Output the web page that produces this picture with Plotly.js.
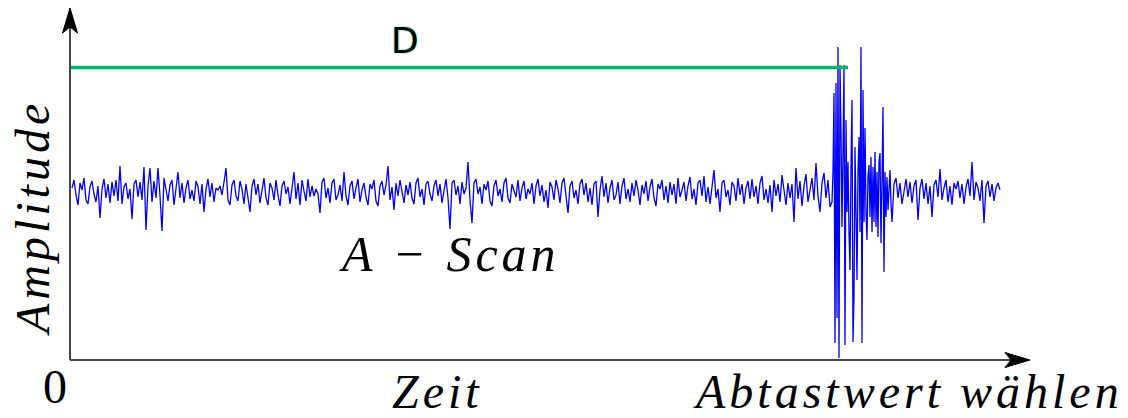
<!DOCTYPE html>
<html>
<head>
<meta charset="utf-8">
<script src="https://cdn.plot.ly/plotly-3.0.1.min.js"></script>
<style>
  html, body { margin: 0; padding: 0; background: #fff; }
  #chart { width: 1128px; height: 418px; }
  .annotation-text { letter-spacing: 4px; }
</style>
</head>
<body>
<div id="chart"></div>
<script>
// ---- data (amplitude in arbitrary units, baseline = 0) ----
// noise before the echo, one value per sample index 0..379
const noiseBefore = [
  4, 12, -3, -13, 9, 2, 14, -8, -12, 5, 11, -2, -10, 6, -26, 3, 13, -6, 8, -11,
  10, -4, 12, -9, 26, -12, 5, 9, -7, 3, -27, 8, 12, -5, 10, -8, 25, -38, 6, 24,
  -10, 11, -6, 24, -4, -39, 14, 2, -9, 7, 12, -13, 3, 20, -6, 9, -11, 4, 12, -7,
  2, -9, 11, 5, -12, 8, -20, 3, 13, -5, 9, -10, 4, 2, 6, -3, 10, 24, -8, -13,
  7, 12, -4, -9, 11, 3, -12, 8, -6, -20, 6, 13, -3, 8, -11, 2, 14, -6, -13, 9,
  4, -8, 12, -3, -14, 6, 11, -2, 5, -12, 3, 20, -7, 9, -13, 12, 1, -9, 13, -5,
  6, -4, 3, -2, -21, 10, 14, -6, 4, -11, 9, 13, -8, -3, 7, -9, 20, -4, -13, 6,
  11, -7, 4, 13, -10, 2, 9, -5, -13, 8, 3, 12, -9, -14, 6, 11, -3, 7, 26, -8,
  5, -18, 9, -4, 12, 2, -11, 7, -3, 10, -6, -12, 9, 14, -5, 3, -13, 8, 11, -2,
  -9, 6, 12, -4, 8, -11, 3, 13, -6, -37, 9, 12, -3, 6, -12, 10, -2, 4, 30, -8,
  -31, 9, 13, -2, 5, -12, 8, 2, 11, -9, -14, 6, 12, -4, 3, -10, 9, 14, -6, -11,
  8, 2, -5, 12, -9, 4, 11, -7, 3, -2, 9, -12, 6, 13, -4, 7, -10, 2, -16, 10,
  5, -8, 12, 3, -11, 9, 14, -4, -21, 6, 11, -6, 2, -12, 8, 13, -3, 9, -10, 4,
  -13, 8, 11, -25, 2, 16, -5, 9, -11, 4, 12, -8, -3, 10, -12, 6, 14, -7, 3, -10,
  9, -4, 12, 2, -13, 7, -2, 11, -9, 5, 13, -6, -14, 8, 3, 12, -8, 6, -11, 10,
  -3, 8, -12, 14, -5, 2, 10, -9, 6, 15, -7, 3, -13, 9, 12, -4, 16, -10, 5, -12,
  7, 22, -6, 3, -20, 9, 12, -5, 2, -13, 10, 6, -9, 14, -3, 8, -12, 4, 11, -7,
  13, -5, 6, -12, 9, 16, -8, 3, -11, 7, -20, 12, -4, 8, -10, 17, 2, -13, 9, -6,
  8, -30, 24, -7, 11, -14, 6, 18, -10, 3, 14, -8, 29, -4, -20, 9, 19, -6, 12, -15
];
// echo burst, sampled at half-index steps from 380 to 410
const echoBurst = [
  -10, 20, 99, -151, 109, -126, 145, -166, 127, 59,
  -35, 40, 127, -153, 72, -20, 30, -40, -78, 25,
  92, -150, -105, 45, -20, -88, 20, 55, -40, 145,
  -151, 102, -30, 64, -20, -48, 15, 27, -25, 35,
  -40, 25, -30, 40, -35, 20, -45, 30, 39, -51,
  10, 85, -80, 20, -25, 15, -18, 10, 22, -12, -30
];
// noise after the echo, sample index 411..464
const noiseAfter = [
  8, 14, -6, 9, -12, 3, 13, -5, 10, -11, 6, 12, -28, 4, 13, -7, 9, -12, 6, -25,
  7, 12, -5, 23, -8, 4, 12, -10, 6, -13, 9, 3, 11, -6, 8, -12, 5, 13, -4, 30,
  -8, 10, 4, -9, 12, -31, 6, 11, -5, 8, -9, 4, 9, 2
];
const amplitude = noiseBefore.concat(echoBurst, noiseAfter);
const sampleIndex = []
  .concat(noiseBefore.map((_, i) => i))
  .concat(echoBurst.map((_, i) => noiseBefore.length + i * 0.5))
  .concat(noiseAfter.map((_, i) => 411 + i));

// distance marker D (from start to the echo)
const dLineTime = [-1, 388];
const dLineLevel = [124.5, 124.5];

const labelAmplitude = 'Amplitude';
const labelTime = 'Zeit';
const labelSample = 'Abtastwert wählen';
const labelScan = 'A − Scan';
const labelOrigin = '0';
const labelD = 'D';

// ---- plot ----
function serifItalic(size) {
  return { family: 'Liberation Serif', size: size, color: '#000000', style: 'italic' };
}

const traces = [
  {
    x: sampleIndex, y: amplitude, type: 'scatter', mode: 'lines',
    line: { color: '#0000ff', width: 1.3 }, hoverinfo: 'skip'
  },
  {
    x: dLineTime, y: dLineLevel, type: 'scatter', mode: 'lines',
    line: { color: '#00b46e', width: 3.5 }, hoverinfo: 'skip'
  }
];

const layout = {
  width: 1128, height: 418,
  margin: { l: 70, r: 98, t: 8, b: 58, pad: 0 },
  paper_bgcolor: '#ffffff', plot_bgcolor: '#ffffff',
  showlegend: false,
  xaxis: { range: [-1, 479], showgrid: false, zeroline: false, showline: false, showticklabels: false, ticks: '' },
  yaxis: { range: [-168, 184], showgrid: false, zeroline: false, showline: false, showticklabels: false, ticks: '' },
  shapes: [
    { type: 'line', xref: 'paper', yref: 'paper', x0: 0, x1: 0, y0: 0, y1: 0.95, line: { color: '#444', width: 2 } },
    { type: 'line', xref: 'paper', yref: 'paper', x0: 0, x1: 0.985, y0: 0, y1: 0, line: { color: '#444', width: 2 } },
    { type: 'path', xref: 'paper', yref: 'paper', xsizemode: 'pixel', ysizemode: 'pixel', xanchor: 0, yanchor: 1,
      path: 'M0,0 L-7.5,-25 L0,-19 L7.5,-25 Z', fillcolor: '#000', line: { color: '#000', width: 1 } },
    { type: 'path', xref: 'paper', yref: 'paper', xsizemode: 'pixel', ysizemode: 'pixel', xanchor: 1, yanchor: 0,
      path: 'M0,0 L-25,7.5 L-19,0 L-25,-7.5 Z', fillcolor: '#000', line: { color: '#000', width: 1 } }
  ],
  annotations: [
    { text: labelAmplitude, xref: 'paper', yref: 'paper', x: -0.0395, y: 0.4034, textangle: -90,
      xanchor: 'center', yanchor: 'middle', showarrow: false, font: serifItalic(48) },
    { text: labelScan, xref: 'paper', yref: 'paper', x: 0.3958, y: 0.301,
      xanchor: 'center', yanchor: 'middle', showarrow: false, font: serifItalic(50) },
    { text: labelTime, xref: 'paper', yref: 'paper', x: 0.3823, y: -0.0909,
      xanchor: 'center', yanchor: 'middle', showarrow: false, font: serifItalic(48) },
    { text: labelSample, xref: 'paper', yref: 'paper', x: 0.8724, y: -0.0909,
      xanchor: 'center', yanchor: 'middle', showarrow: false, font: serifItalic(48) },
    { text: labelOrigin, xref: 'paper', yref: 'paper', x: -0.0135, y: -0.0767,
      xanchor: 'center', yanchor: 'middle', showarrow: false,
      font: { family: 'Liberation Serif', size: 48, color: '#000000' } },
    { text: labelD, xref: 'paper', yref: 'paper', x: 0.351, y: 0.909,
      xanchor: 'center', yanchor: 'middle', showarrow: false,
      font: { family: 'DejaVu Sans', size: 36, color: '#000000', shadow: '0 0 2px #00c070' } }
  ]
};

Plotly.newPlot('chart', traces, layout, { displayModeBar: false, staticPlot: true });
</script>
</body>
</html>
